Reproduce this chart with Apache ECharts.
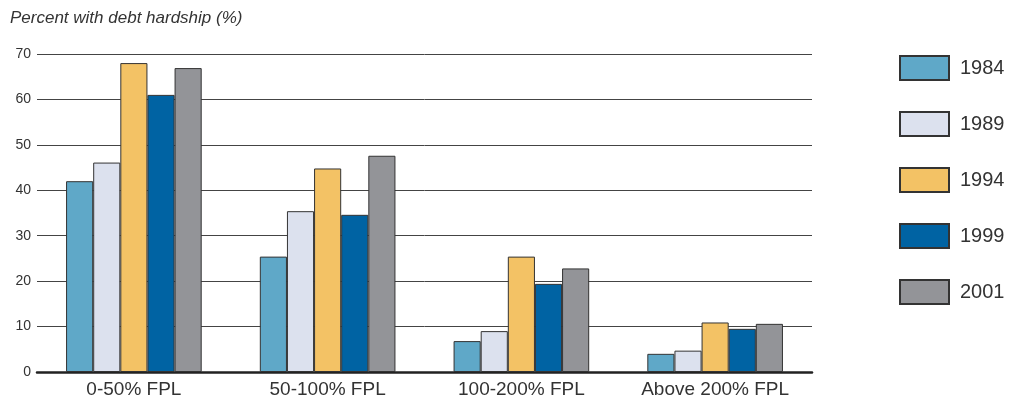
<!DOCTYPE html>
<html>
<head>
<meta charset="utf-8">
<script src="https://cdn.jsdelivr.net/npm/echarts@6/dist/echarts.min.js"></script>
<style>
  html, body { margin: 0; padding: 0; background: #fff; }
  #chart { width: 1013px; height: 400px; }
</style>
</head>
<body>
<div id="chart"></div>
<script>
// Share of households with debt hardship, by income relative to the poverty line
const categories = ['0-50% FPL', '50-100% FPL', '100-200% FPL', 'Above 200% FPL'];
const years = ['1984', '1989', '1994', '1999', '2001'];
const v1984 = [42.0, 25.4, 6.8, 4.0];
const v1989 = [46.1, 35.4, 9.0, 4.7];
const v1994 = [68.0, 44.8, 25.4, 10.9];
const v1999 = [61.0, 34.6, 19.4, 9.5];
const v2001 = [66.9, 47.6, 22.8, 10.6];
const yearColors = ['#5fa8c8', '#dce1ee', '#f3c265', '#0063a3', '#939498'];

const seriesValues = [v1984, v1989, v1994, v1999, v2001];
const FONT = '"Liberation Sans", Arial, sans-serif';

const chart = echarts.init(document.getElementById('chart'));
chart.setOption({
  animation: false,
  title: {
    text: 'Percent with debt hardship (%)',
    left: 5,
    top: 5,
    textStyle: { fontFamily: FONT, fontStyle: 'italic', fontWeight: 'normal', fontSize: 17, color: '#333' }
  },
  legend: {
    orient: 'vertical',
    left: 894,
    top: 50,
    itemWidth: 49,
    itemHeight: 24,
    itemGap: 30,
    icon: 'rect',
    textStyle: { fontFamily: FONT, fontSize: 20, color: '#333', lineHeight: 24, padding: [0, 0, 0, 6] },
    data: years
  },
  grid: { left: 37, right: 201, top: 54, bottom: 28, containLabel: false },
  xAxis: {
    type: 'category',
    data: categories,
    axisLine: { lineStyle: { color: '#222', width: 2.5 } },
    axisTick: { show: false },
    axisLabel: { fontFamily: FONT, fontSize: 19, color: '#333', margin: 8 }
  },
  yAxis: {
    type: 'value',
    min: 0,
    max: 70,
    interval: 10,
    axisLine: { show: false },
    axisTick: { show: false },
    axisLabel: { fontFamily: FONT, fontSize: 14, color: '#333', margin: 6 },
    splitLine: { lineStyle: { color: '#444', width: 1 } }
  },
  series: years.map((y, i) => ({
    name: y,
    type: 'bar',
    data: seriesValues[i],
    barGap: '0%',
    barCategoryGap: '30%',
    itemStyle: { color: yearColors[i], borderColor: '#333', borderWidth: 1 }
  }))
});
</script>
</body>
</html>
